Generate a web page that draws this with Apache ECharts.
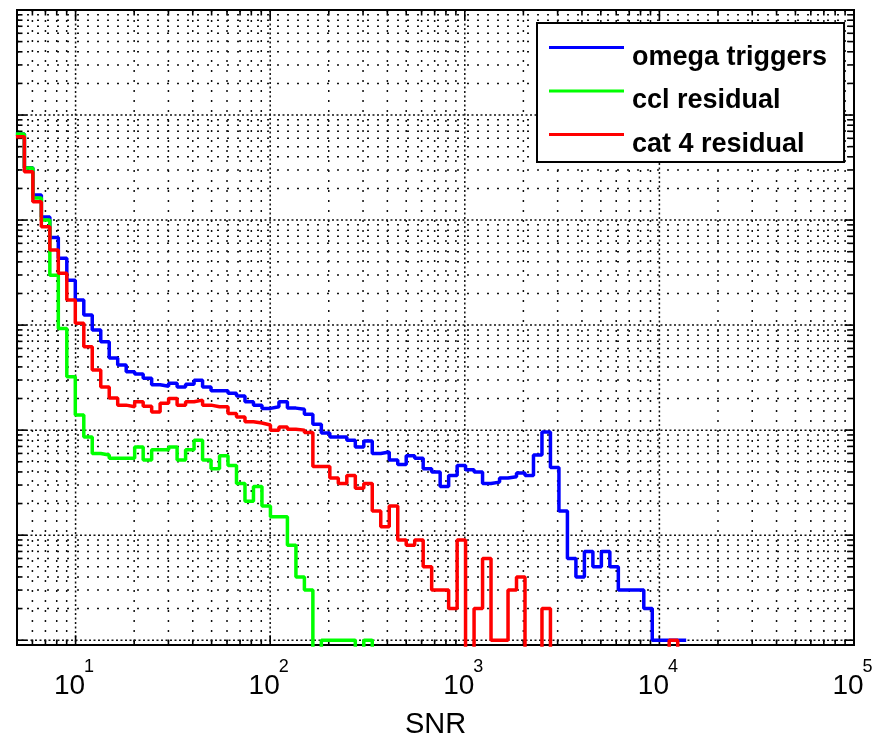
<!DOCTYPE html>
<html>
<head>
<meta charset="utf-8">
<style>
  html, body { margin: 0; padding: 0; background: #fff; }
  #chart { width: 879px; height: 737px; }
</style>
<script src="https://cdn.jsdelivr.net/npm/echarts@6/dist/echarts.min.js"></script>
</head>
<body>
<div id="chart"></div>
<script>
// Histogram bin edges in SNR (log-spaced bins)
const binEdges = [
  4.935, 5.457, 6.033, 6.670, 7.374, 8.153, 9.014, 9.966, 11.02, 12.18,
  13.47, 14.89, 16.46, 18.20, 20.12, 22.25, 24.60, 27.19, 30.07, 33.24,
  36.75, 40.63, 44.93, 49.67, 54.91, 60.71, 67.12, 74.21, 82.05, 90.72,
  100.3, 110.9, 122.6, 135.6, 149.9, 165.7, 183.2, 202.5, 223.9, 247.6,
  273.8, 302.7, 334.6, 370.0, 409.1, 452.3, 500.0, 552.8, 611.2, 675.8,
  747.2, 826.1, 913.4, 1009, 1116, 1234, 1364, 1509, 1668, 1844,
  2039, 2254, 2492, 2755, 3046, 3368, 3724, 4117, 4552, 5033,
  5564, 6152, 6801, 7520, 8314, 9190, 10160, 11230, 12420, 13730
];

// Counts per bin
const omegaTriggers = [
  66000, 31500, 17300, 10700, 6810, 4320, 2680, 1730, 1245, 896, 693, 485,
  416, 359, 342, 311, 271, 262, 279, 258, 274, 299, 258, 237,
  237, 224, 211, 186, 173, 161, 167, 186, 162, 158, 142, 114,
  94, 86, 86, 80, 69, 79, 60, 62, 52, 47, 57, 54,
  43, 40, 29, 37, 46, 42, 40, 31, 32, 35, 36, 39,
  37, 58, 96, 44, 17, 6, 4, 7, 5, 7, 5, 3,
  3, 3, 2, 1, 1, 1, 1
];
const cclResidual = [
  66000, 31300, 16200, 10000, 2990, 930, 322, 139, 86, 60, 58, 54,
  54, 54, 69, 52, 65, 65, 69, 52, 65, 80, 52, 43,
  57, 46, 31, 21, 29, 19, 15, 15, 8, 4, 3, 0,
  1, 1, 1, 1, 0, 1, 0, 0, 0, 0, 0, 0,
  0, 0, 0, 0, 0, 0, 0, 0, 0, 0, 0, 0,
  0, 0, 0, 0, 0, 0, 0, 0, 0, 0, 0, 0,
  0, 0, 0, 0, 0, 0, 0
];
const cat4Residual = [
  62000, 28800, 14900, 8630, 5180, 3110, 1730, 1040, 621, 373, 257, 202,
  173, 167, 186, 169, 149, 180, 200, 173, 186, 193, 173, 167,
  167, 144, 133, 120, 117, 112, 100, 107, 102, 100, 95, 45,
  45, 35, 31, 37, 28, 31, 17, 12, 19, 9, 8, 9,
  5, 3, 3, 2, 9, 0, 2, 6, 1, 1, 3, 4,
  0, 0, 2, 0, 0, 0, 0, 0, 0, 0, 0, 0,
  0, 0, 0, 0, 0, 1, 0
];

const seriesNames = ['omega triggers', 'ccl residual', 'cat 4 residual'];
const seriesColors = ['#0000ff', '#00ff00', '#ff0000'];
const xTickValues = [10, 100, 1000, 10000, 100000];

// Axis ranges
const X_MIN = 5, X_MAX = 1e5;
const Y_MIN = 0.9, Y_MAX = 1e6;
// Empty bins are drawn below the axis floor so the line drops out of view
const EMPTY_LEVEL = 0.5;

const SANS = '"Liberation Sans", Arial, Helvetica, sans-serif';

function stairs(counts) {
  const pts = counts.map((c, i) => [binEdges[i], c > 0 ? c : EMPTY_LEVEL]);
  const last = counts[counts.length - 1];
  pts.push([binEdges[counts.length], last > 0 ? last : EMPTY_LEVEL]);
  return pts;
}

function isDecade(v) {
  const e = Math.log10(v);
  return Math.abs(e - Math.round(e)) < 1e-6;
}

// Grid lines and tick marks at 1..9 x 10^k on both log axes
const gridItems = [];
for (let k = 0; k <= 5; k++) {
  for (let m = 1; m <= 9; m++) {
    const v = m * Math.pow(10, k);
    if (v > X_MIN * 1.001 && v < X_MAX * 0.999) gridItems.push([v, 10, 0, m === 1 ? 1 : 0]);
  }
}
for (let k = 0; k <= 6; k++) {
  for (let m = 1; m <= 9; m++) {
    const v = m * Math.pow(10, k);
    if (v >= 1 && v < Y_MAX * 0.999) gridItems.push([10, v, 1, m === 1 ? 1 : 0]);
  }
}

function renderGrid(params, api) {
  const horiz = api.value(2) === 1;
  const major = api.value(3) === 1;
  const bl = api.coord([X_MIN, Y_MIN]);
  const tr = api.coord([X_MAX, Y_MAX]);
  const len = major ? 9.5 : 5.5;
  const dash = major ? [2, 2.5] : [2, 8];
  const gridStyle = { stroke: '#111', lineWidth: 1.5, lineDash: dash, fill: null };
  const tickStyle = { stroke: '#000', lineWidth: 1.6, fill: null };
  const children = [];
  if (!horiz) {
    const x = api.coord([api.value(0), 10])[0];
    children.push({ type: 'line', shape: { x1: x, y1: tr[1], x2: x, y2: bl[1] }, style: gridStyle });
    children.push({ type: 'line', shape: { x1: x, y1: bl[1], x2: x, y2: bl[1] - len }, style: tickStyle });
    children.push({ type: 'line', shape: { x1: x, y1: tr[1], x2: x, y2: tr[1] + len }, style: tickStyle });
  } else {
    const y = api.coord([10, api.value(1)])[1];
    children.push({ type: 'line', shape: { x1: bl[0], y1: y, x2: tr[0], y2: y }, style: gridStyle });
    children.push({ type: 'line', shape: { x1: bl[0], y1: y, x2: bl[0] + len, y2: y }, style: tickStyle });
    children.push({ type: 'line', shape: { x1: tr[0], y1: y, x2: tr[0] - len, y2: y }, style: tickStyle });
  }
  return { type: 'group', children };
}

const chart = echarts.init(document.getElementById('chart'), null, { renderer: 'canvas' });

const histSeries = [omegaTriggers, cclResidual, cat4Residual].map((counts, i) => ({
  name: seriesNames[i],
  type: 'line',
  step: 'end',
  data: stairs(counts),
  showSymbol: false,
  symbol: 'none',
  clip: true,
  silent: true,
  z: 3 + i,
  lineStyle: { color: seriesColors[i], width: 3.5 },
  itemStyle: { color: seriesColors[i] },
  animation: false
}));

chart.setOption({
  animation: false,
  backgroundColor: '#fff',
  grid: {
    left: 17, right: 25, top: 10, bottom: 92,
    outerBoundsMode: 'none',
    containLabel: false,
    show: true,
    borderColor: '#000',
    borderWidth: 2,
    backgroundColor: '#fff'
  },
  legend: {
    data: seriesNames,
    orient: 'vertical',
    left: 537,
    top: 23,
    padding: [1, 17, 4, 12],
    itemGap: -3.5,
    itemWidth: 75,
    itemHeight: 3,
    icon: 'rect',
    backgroundColor: '#fff',
    borderColor: '#000',
    borderWidth: 2,
    borderRadius: 0,
    selectedMode: false,
    formatter: name => '{t|' + name + '}',
    textStyle: {
      color: '#000',
      fontFamily: SANS,
      fontWeight: 'bold',
      fontSize: 27,
      rich: {
        t: {
          color: '#000',
          fontFamily: SANS,
          fontWeight: 'bold',
          fontSize: 27,
          lineHeight: 20,
          padding: [20, 0, 0, 3]
        }
      }
    }
  },
  xAxis: [
    {
      type: 'log', logBase: 10, min: X_MIN, max: X_MAX,
      position: 'bottom',
      axisLine: { show: false },
      axisTick: { show: false },
      splitLine: { show: false },
      minorTick: { show: false },
      axisLabel: {
        show: true,
        margin: 27,
        color: '#000',
        fontFamily: SANS,
        fontSize: 28,
        lineHeight: 28,
        padding: [0, 12, 0, 0],
        showMinLabel: true,
        showMaxLabel: true,
        formatter: v => (isDecade(v) && xTickValues.includes(Math.round(v)) ? '10' : '')
      },
      name: 'SNR',
      nameLocation: 'middle',
      nameGap: 65,
      nameTextStyle: { color: '#000', fontFamily: SANS, fontSize: 29, lineHeight: 29 }
    },
    {
      type: 'log', logBase: 10, min: X_MIN, max: X_MAX,
      position: 'bottom',
      gridIndex: 0,
      axisLine: { show: false },
      axisTick: { show: false },
      splitLine: { show: false },
      minorTick: { show: false },
      axisLabel: {
        show: true,
        margin: 13,
        color: '#000',
        fontFamily: SANS,
        fontSize: 18,
        lineHeight: 18,
        padding: [0, 0, 0, 27],
        showMinLabel: true,
        showMaxLabel: true,
        formatter: v => (isDecade(v) && xTickValues.includes(Math.round(v)) ? String(Math.round(Math.log10(v))) : '')
      }
    }
  ],
  yAxis: {
    type: 'log', logBase: 10, min: Y_MIN, max: Y_MAX,
    axisLine: { show: false },
    axisTick: { show: false },
    axisLabel: { show: false },
    splitLine: { show: false },
    minorTick: { show: false }
  },
  series: [
    {
      name: 'grid',
      type: 'custom',
      coordinateSystem: 'cartesian2d',
      renderItem: renderGrid,
      data: gridItems,
      silent: true,
      clip: false,
      z: 1,
      animation: false
    },
    ...histSeries
  ]
});
</script>
</body>
</html>
